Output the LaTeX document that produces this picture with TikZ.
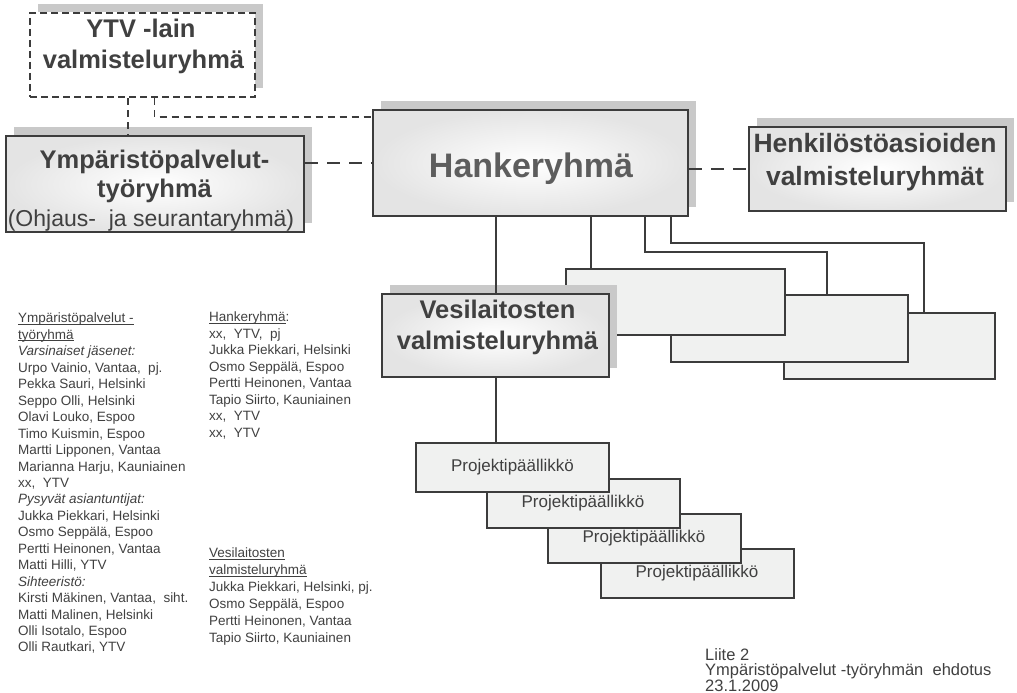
\documentclass[tikz,border=0pt]{standalone}
\usepackage{fontspec}
\setmainfont{Liberation Sans}
\usetikzlibrary{shadows}

\definecolor{txtgray}{HTML}{404040}
\definecolor{linegray}{HTML}{3C3C3C}
\definecolor{boxgray}{HTML}{E4E4E4}
\definecolor{palegray}{HTML}{F0F1F0}
\definecolor{shadegray}{HTML}{C9C9C9}

% underline close to the baseline
\newcommand\ulin[1]{\setbox0\hbox{#1}\rlap{\rule[-1.8pt]{\wd0}{0.8pt}}\box0}

\tikzset{
  grp/.style={draw=linegray, line width=2pt, inner color=white, outer color=boxgray,
    drop shadow={shadow xshift=8pt, shadow yshift=9pt, fill=shadegray, opacity=1}},
  blank/.style={draw=linegray, line width=2pt, fill=palegray},
  headtxt/.style={anchor=base, inner sep=0pt, font=\bfseries\fontsize{25.5}{30}\selectfont},
  coltxt/.style={anchor=north west, inner sep=0pt, align=left},
  link/.style={draw=linegray, line width=2pt},
  dlink/.style={draw=linegray, line width=1.8pt, dash pattern=on 7pt off 5pt},
  bigdlink/.style={draw=linegray, line width=2.6pt, dash pattern=on 13pt off 9pt}
}

\begin{document}
\begin{tikzpicture}[x=1pt, y=-1pt, every node/.style={text=txtgray}]
\useasboundingbox (0,0) rectangle (1017,693);

% group boxes
\node[grp, dash pattern=on 7pt off 4pt, inner color=white, outer color=white,
  minimum width=225pt, minimum height=84pt] (ytv) at (142.5,55) {};
\node[grp, minimum width=298pt, minimum height=96pt] (ymp) at (155,184) {};
\node[grp, minimum width=315pt, minimum height=106pt] (hank) at (530.5,163) {};
\node[grp, minimum width=257pt, minimum height=84pt] (henk) at (877.5,169) {};

% empty boxes behind
\node[blank, minimum width=211pt, minimum height=66pt] (blkC) at (889.5,346) {};
\node[blank, minimum width=237pt, minimum height=67pt] (blkB) at (789.5,328.5) {};
\node[blank, minimum width=219pt, minimum height=66pt] (blkA) at (675.5,302) {};
\node[grp, minimum width=227pt, minimum height=83pt] (vesi) at (495.5,335.5) {};

% box texts
\node[headtxt] (ytv1) at (141,38) {YTV -lain};
\node[headtxt] (ytv2) at (143.5,68) {valmisteluryhmä};
\node[headtxt] (ymp1) at (154.5,168) {Ympäristöpalvelut-};
\node[headtxt] (ymp2) at (154.5,197) {työryhmä};
\node[anchor=base, inner sep=0pt, font=\fontsize{23}{27}\selectfont] (ymp3) at (151,226)
  {(Ohjaus-\ \ ja seurantaryhmä)};
\node[headtxt, font=\bfseries\fontsize{34}{40}\selectfont, text=txtgray!85] (hank1) at (531,177) {Hankeryhmä};
\node[headtxt, font=\bfseries\fontsize{26.5}{30}\selectfont] (henk1) at (875,152) {Henkilöstöasioiden};
\node[headtxt, font=\bfseries\fontsize{26.5}{30}\selectfont] (henk2) at (875,185) {valmisteluryhmät};
\node[headtxt] (vesi1) at (497.5,318) {Vesilaitosten};
\node[headtxt] (vesi2) at (497.5,349) {valmisteluryhmä};

% project managers
\begin{scope}[every node/.style={blank, text=txtgray, minimum width=193pt, minimum height=49pt,
    font=\fontsize{17}{20}\selectfont}]
  \node (pm4) at (697,573) {Projektipäällikkö};
  \node (pm3) at (644,538.5) {Projektipäällikkö};
  \node (pm2) at (583,503) {Projektipäällikkö};
  \node (pm1) at (512.5,467.5) {Projektipäällikkö};
\end{scope}

% connectors
\draw[dlink] ([xshift=-14.5pt]ytv.south) -- ([xshift=-14.5pt]ytv.south |- ymp.north);
\draw[dlink] ([xshift=12pt]ytv.south) |- ([yshift=-8pt]hank.north west);
\draw[bigdlink] (ymp.east |- hank.west) -- (hank.west);
\draw[bigdlink] (hank.east |- henk.west) -- (henk.west);

\draw[link] (vesi.north |- hank.south) -- (vesi.north);
\draw[link] (vesi.south) -- (vesi.south |- pm1.north);
\draw[link] ([xshift=26pt]blkA.north west |- hank.south) -- ([xshift=26pt]blkA.north west);
\draw[link] ([xshift=114.5pt]hank.south) -- ++(0,35) -| ([xshift=157pt]blkB.north west);
\draw[link] ([xshift=140.5pt]hank.south) -- ++(0,26) -| ([xshift=141pt]blkC.north west);

% member lists
\node[coltxt, font=\fontsize{13.5}{16.45}\selectfont] (ympcol) at (18,313) {%
  \ulin{Ympäristöpalvelut -}\\
  \ulin{työryhmä}\\
  \textit{Varsinaiset jäsenet:}\\
  Urpo Vainio, Vantaa,\ \ pj.\\
  Pekka Sauri, Helsinki\\
  Seppo Olli, Helsinki\\
  Olavi Louko, Espoo\\
  Timo Kuismin, Espoo\\
  Martti Lipponen, Vantaa\\
  Marianna Harju, Kauniainen\\
  xx,\ \ YTV\\
  \textit{Pysyvät asiantuntijat:}\\
  Jukka Piekkari, Helsinki\\
  Osmo Seppälä, Espoo\\
  Pertti Heinonen, Vantaa\\
  Matti Hilli, YTV\\
  \textit{Sihteeristö:}\\
  Kirsti Mäkinen, Vantaa,\ \ siht.\\
  Matti Malinen, Helsinki\\
  Olli Isotalo, Espoo\\
  Olli Rautkari, YTV};
\node[coltxt, font=\fontsize{13.5}{16.45}\selectfont] (hankcol) at (209,312) {%
  \ulin{Hankeryhmä}:\\
  xx,\ \ YTV,\ \ pj\\
  Jukka Piekkari, Helsinki\\
  Osmo Seppälä, Espoo\\
  Pertti Heinonen, Vantaa\\
  Tapio Siirto, Kauniainen\\
  xx,\ \ YTV\\
  xx,\ \ YTV};
\node[coltxt, font=\fontsize{13.5}{16.9}\selectfont] (vesicol) at (209,548) {%
  \ulin{Vesilaitosten}\\
  \ulin{valmisteluryhmä}\\
  Jukka Piekkari, Helsinki, pj.\\
  Osmo Seppälä, Espoo\\
  Pertti Heinonen, Vantaa\\
  Tapio Siirto, Kauniainen};

\node[coltxt, font=\fontsize{16.5}{15.5}\selectfont] (liite) at (705,648) {%
  Liite 2\\
  Ympäristöpalvelut -työryhmän\ \ ehdotus\\
  23.1.2009};
\end{tikzpicture}
\end{document}
